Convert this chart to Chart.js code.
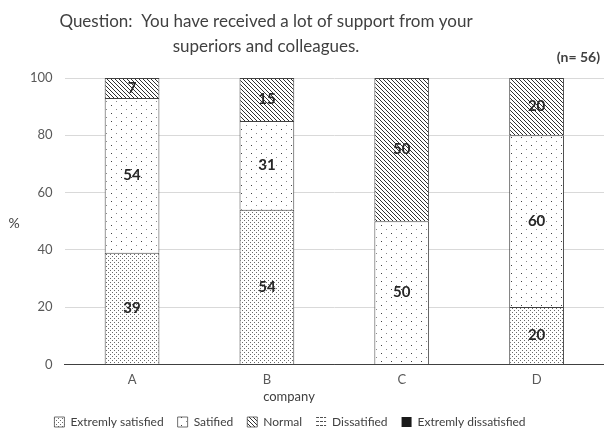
<!DOCTYPE html>
<html>
<head>
<meta charset="utf-8">
<script src="https://cdn.jsdelivr.net/npm/chart.js@4"></script>
<style>
  html, body { margin: 0; padding: 0; background: #fff; }
  #wrap { width: 604px; height: 432px; }
</style>
</head>
<body>
<div id="wrap"><canvas id="chart"></canvas></div>
<script>
// answers per company, in percent
const categories = ['A', 'B', 'C', 'D'];
const extremelySatisfied = [39, 54, 0, 20];
const satisfied = [54, 31, 50, 60];
const normal = [7, 15, 50, 20];
const dissatisfied = [0, 0, 0, 0];
const extremelyDissatisfied = [0, 0, 0, 0];
const yTicks = [0, 20, 40, 60, 80, 100];

const titleLines = ['Question:  You have received a lot of support from your', 'superiors and colleagues.'];
const fontName = 'Lato, "Open Sans", sans-serif';

// small repeating tiles used as bar fills
function makePattern(w, h, draw) {
    const c = document.createElement('canvas');
    c.width = w;
    c.height = h;
    const g = c.getContext('2d');
    g.fillStyle = '#ffffff';
    g.fillRect(0, 0, w, h);
    draw(g);
    return g.createPattern(c, 'repeat');
}

const denseDots = makePattern(4, 4, g => {
    g.fillStyle = '#6a6a6a';
    g.fillRect(0, 0, 1, 1);
    g.fillRect(2, 2, 1, 1);
});
const sparseDots = makePattern(10, 8, g => {
    g.fillStyle = '#404040';
    g.fillRect(1, 1, 1, 1);
    g.fillStyle = '#8a8a8a';
    g.fillRect(6, 5, 1, 1);
});
const diagonal = makePattern(4, 4, g => {
    g.fillStyle = '#303030';
    for (let i = 0; i < 4; i++) g.fillRect(i, i, 1, 1);
});
const dashes = makePattern(4, 4, g => {
    g.fillStyle = '#505050';
    g.fillRect(0, 1, 3, 1);
});

// pieces share one 1px line where they meet; empty pieces get no outline
function pieceBorder(c) {
    if (c.type !== 'data') return 1;
    if (!c.raw) return 0;
    return { top: 1, left: 1, right: 1, bottom: 0 };
}

function makeSet(label, data, fill) {
    return {
        label: label,
        data: data,
        backgroundColor: fill,
        borderColor: '#404040',
        borderWidth: pieceBorder,
        borderSkipped: false,
        categoryPercentage: 1,
        barPercentage: 0.406
    };
}

// value written in the middle of each stacked piece
const segmentLabels = {
    id: 'segmentLabels',
    afterDatasetsDraw(chart) {
        const ctx = chart.ctx;
        ctx.save();
        ctx.font = 'bold 15px ' + fontName;
        ctx.fillStyle = '#262626';
        ctx.textAlign = 'center';
        ctx.textBaseline = 'middle';
        chart.data.datasets.forEach((ds, i) => {
            const meta = chart.getDatasetMeta(i);
            meta.data.forEach((bar, j) => {
                const v = ds.data[j];
                if (!v) return;
                ctx.fillText(String(v), bar.x, (bar.y + bar.base) / 2);
            });
        });
        ctx.restore();
    }
};

// title, unrotated "%", axis name and sample size note
const textNotes = {
    id: 'textNotes',
    afterLayout(chart) {
        // legend sits a bit left of the middle and low on the page
        chart.legend.left -= 21;
        chart.legend.right -= 21;
        chart.legend.top += 6;
        chart.legend.bottom += 6;
    },
    afterDraw(chart) {
        const ctx = chart.ctx;
        const area = chart.chartArea;
        ctx.save();
        ctx.fillStyle = '#404040';
        ctx.textBaseline = 'middle';
        ctx.textAlign = 'center';
        ctx.font = '17px ' + fontName;
        ctx.fillText(titleLines[0], 266, 22);
        ctx.fillText(titleLines[1], 266, 47);
        ctx.font = '14px ' + fontName;
        ctx.fillText('%', 14, (area.top + area.bottom) / 2 + 2);
        ctx.font = '13px ' + fontName;
        ctx.fillText('company', 289, area.bottom + 32);
        ctx.font = 'bold 14px ' + fontName;
        ctx.textAlign = 'right';
        ctx.fillText('(n= 56)', 600, 57);
        ctx.restore();
    }
};

new Chart(document.getElementById('chart'), {
    type: 'bar',
    data: {
        labels: categories,
        datasets: [
            makeSet('Extremly satisfied', extremelySatisfied, denseDots),
            makeSet('Satified', satisfied, sparseDots),
            makeSet('Normal', normal, diagonal),
            makeSet('Dissatified', dissatisfied, dashes),
            makeSet('Extremly dissatisfied', extremelyDissatisfied, '#1a1a1a')
        ]
    },
    options: {
        responsive: true,
        maintainAspectRatio: false,
        animation: false,
        layout: { padding: { left: 18, right: 0, top: 78, bottom: 0 } },
        scales: {
            x: {
                stacked: true,
                grid: { display: false, drawTicks: false },
                border: { color: '#404040' },
                ticks: { color: '#595959', font: { family: fontName, size: 13 }, padding: 8 }
            },
            y: {
                stacked: true,
                min: 0,
                max: 100,
                afterBuildTicks: axis => { axis.ticks = yTicks.map(v => ({ value: v })); },
                grid: {
                    color: c => (c.tick && c.tick.value === 0 ? '#404040' : '#d9d9d9'),
                    drawTicks: false
                },
                border: { display: false },
                ticks: { color: '#595959', font: { family: fontName, size: 13 }, padding: 12 }
            }
        },
        plugins: {
            legend: {
                position: 'bottom',
                labels: {
                    color: '#404040',
                    font: { family: fontName, size: 12 },
                    boxWidth: 10,
                    boxHeight: 10,
                    padding: 14
                }
            },
            tooltip: { enabled: false }
        }
    },
    plugins: [segmentLabels, textNotes]
});
</script>
</body>
</html>
